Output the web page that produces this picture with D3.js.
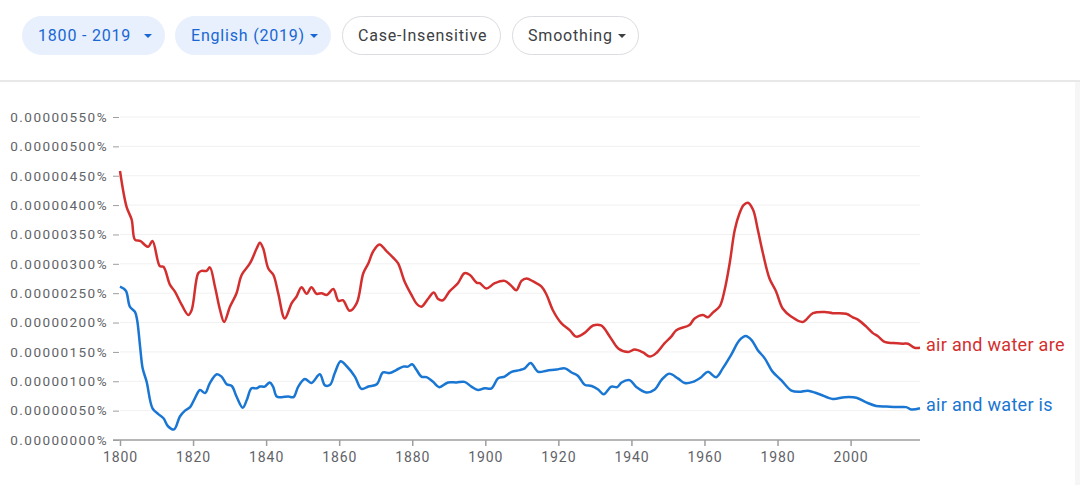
<!DOCTYPE html>
<html>
<head>
<meta charset="utf-8">
<script src="https://cdn.jsdelivr.net/npm/d3@7"></script>
<style>
  body { margin: 0; background: #fff; }
  svg { display: block; font-family: Roboto, "Noto Sans", sans-serif; }
</style>
</head>
<body>
<svg id="chart" width="1080" height="485"></svg>
<script>
// values are in units of 0.000001 %
const redName = "air and water are";
const redYears = [1800, 1801.8, 1803.2, 1804.1, 1805.5, 1807.7, 1808.9, 1810.9, 1811.9, 1813.7, 1815, 1816.9, 1818.7, 1819.6, 1821.4, 1822.3, 1823.7, 1824.6, 1826, 1827.4, 1828.5, 1830.1, 1831.9, 1833.3, 1835.6, 1837.4, 1838.3, 1839.2, 1840.6, 1842, 1843.3, 1845.1, 1847, 1848.3, 1849.7, 1851.1, 1852.4, 1853.8, 1855.2, 1856.6, 1858.4, 1859.8, 1861, 1862.9, 1864.8, 1866.6, 1868, 1869.3, 1871, 1872.9, 1874.7, 1876.1, 1877.9, 1879.8, 1881.2, 1882.5, 1884.4, 1885.9, 1887.1, 1888.4, 1890.2, 1892.5, 1894.3, 1895.8, 1897.6, 1898.5, 1900.3, 1902.6, 1905.3, 1907.2, 1908.5, 1909.9, 1911.3, 1913.1, 1915.4, 1916.8, 1918.5, 1920.8, 1923.1, 1924.9, 1927.1, 1929.5, 1931.7, 1934.1, 1936.4, 1939.1, 1940.9, 1943.2, 1945, 1946.8, 1949.1, 1950.9, 1952.3, 1955.9, 1957.3, 1959.6, 1960.9, 1962.3, 1964.2, 1965.5, 1966.9, 1968.3, 1969.6, 1970.7, 1971.9, 1973.3, 1974.6, 1976, 1977.8, 1979.6, 1981.4, 1983.8, 1986.9, 1989.7, 1992.9, 1995.1, 1998.8, 2000.6, 2002, 2004.3, 2006.1, 2007.4, 2009.3, 2011.6, 2014.3, 2015.7, 2017.5, 2019];
const redValues = [4.58, 3.97, 3.75, 3.41, 3.39, 3.29, 3.39, 2.96, 2.95, 2.64, 2.53, 2.30, 2.13, 2.21, 2.84, 2.88, 2.88, 2.94, 2.61, 2.21, 2.01, 2.27, 2.50, 2.81, 3.01, 3.26, 3.36, 3.26, 2.92, 2.81, 2.50, 2.07, 2.33, 2.44, 2.60, 2.49, 2.60, 2.49, 2.50, 2.47, 2.57, 2.37, 2.38, 2.20, 2.33, 2.84, 3.01, 3.21, 3.33, 3.22, 3.11, 3.01, 2.70, 2.47, 2.32, 2.27, 2.41, 2.51, 2.40, 2.38, 2.53, 2.67, 2.84, 2.81, 2.68, 2.67, 2.58, 2.67, 2.71, 2.62, 2.55, 2.71, 2.75, 2.70, 2.61, 2.47, 2.21, 1.99, 1.87, 1.76, 1.82, 1.95, 1.95, 1.76, 1.56, 1.50, 1.54, 1.49, 1.42, 1.48, 1.65, 1.76, 1.87, 1.96, 2.07, 2.13, 2.09, 2.17, 2.28, 2.55, 3.01, 3.58, 3.86, 4.00, 4.04, 3.92, 3.58, 3.18, 2.75, 2.53, 2.24, 2.10, 2.01, 2.16, 2.18, 2.16, 2.15, 2.09, 2.05, 1.93, 1.82, 1.77, 1.67, 1.65, 1.64, 1.64, 1.57, 1.57];

const blueName = "air and water is";
const blueYears = [1800, 1801.6, 1802.7, 1804.1, 1804.7, 1805.5, 1806.2, 1807.3, 1808.9, 1810.5, 1811.9, 1813.2, 1814.8, 1816.4, 1817.8, 1819.2, 1820.5, 1821.9, 1823.3, 1824.6, 1826.5, 1827.8, 1829.2, 1830.6, 1831.9, 1833.6, 1834.7, 1836, 1837.4, 1838.3, 1839.6, 1841, 1841.9, 1842.9, 1844.2, 1846.1, 1847.5, 1848.8, 1850.6, 1852.4, 1854.7, 1856.1, 1857.5, 1858.8, 1860.4, 1862, 1864.3, 1866.1, 1868, 1870.3, 1872, 1873.8, 1875.6, 1877.5, 1878.8, 1880, 1881.2, 1882.5, 1883.9, 1885.7, 1887.4, 1889.8, 1892.1, 1894.3, 1896.2, 1898, 1899.8, 1901.7, 1903.5, 1905.3, 1907.2, 1909.4, 1910.8, 1912.4, 1914.5, 1916.8, 1919.5, 1921.8, 1923.6, 1925.4, 1927.2, 1929.1, 1930.9, 1932.4, 1934.5, 1936.1, 1937.3, 1939.5, 1941.4, 1944.1, 1946.4, 1948.2, 1950.3, 1952.7, 1954.6, 1956.8, 1959.1, 1960.9, 1963.2, 1965, 1967.3, 1969.6, 1971.3, 1972.9, 1974.6, 1976.5, 1978.7, 1981, 1983.8, 1986, 1988.3, 1991.5, 1995.1, 1998.4, 2001.6, 2004.3, 2007, 2009.8, 2012.5, 2015.2, 2016.6, 2019];
const blueValues = [2.61, 2.54, 2.27, 2.18, 2.04, 1.59, 1.22, 0.99, 0.54, 0.44, 0.37, 0.23, 0.18, 0.40, 0.50, 0.56, 0.71, 0.85, 0.80, 0.97, 1.12, 1.08, 0.95, 0.92, 0.74, 0.55, 0.68, 0.88, 0.88, 0.91, 0.91, 0.98, 0.91, 0.74, 0.73, 0.74, 0.73, 0.91, 1.04, 0.97, 1.12, 0.93, 0.94, 1.14, 1.34, 1.26, 1.08, 0.87, 0.91, 0.95, 1.15, 1.14, 1.19, 1.25, 1.25, 1.29, 1.19, 1.08, 1.07, 0.99, 0.90, 0.98, 0.98, 0.99, 0.91, 0.85, 0.88, 0.88, 1.05, 1.08, 1.16, 1.19, 1.22, 1.31, 1.16, 1.18, 1.20, 1.22, 1.15, 1.09, 0.94, 0.92, 0.86, 0.78, 0.91, 0.90, 0.98, 1.02, 0.90, 0.81, 0.86, 1.02, 1.13, 1.05, 0.97, 0.99, 1.07, 1.16, 1.07, 1.22, 1.45, 1.70, 1.77, 1.70, 1.53, 1.39, 1.16, 1.02, 0.84, 0.82, 0.84, 0.78, 0.70, 0.73, 0.72, 0.64, 0.58, 0.57, 0.56, 0.56, 0.52, 0.54];

const yTicks = [0, 0.5, 1, 1.5, 2, 2.5, 3, 3.5, 4, 4.5, 5, 5.5];
const xTicks = [1800, 1820, 1840, 1860, 1880, 1900, 1920, 1940, 1960, 1980, 2000];
const chips = [
  { label: "1800 - 2019", active: true, caret: true },
  { label: "English (2019)", active: true, caret: true },
  { label: "Case-Insensitive", active: false, caret: false },
  { label: "Smoothing", active: false, caret: true }
];

const svg = d3.select("#chart");

// header chips
const chipX = [22, 175, 342, 512];
const chipW = [143, 156, 159, 127];
const header = svg.append("g");
chips.forEach((c, i) => {
  const cg = header.append("g").attr("transform", `translate(${chipX[i]},16)`);
  cg.append("rect")
    .attr("x", 0.5).attr("y", 0.5)
    .attr("width", chipW[i] - 1).attr("height", 38)
    .attr("rx", 19)
    .attr("fill", c.active ? "#e8f0fe" : "#fff")
    .attr("stroke", c.active ? "#e8f0fe" : "#dadce0");
  cg.append("text")
    .attr("x", 16).attr("y", 25)
    .attr("font-size", "16px")
    .attr("letter-spacing", "0.8px")
    .attr("fill", c.active ? "#1967d2" : "#3c4043")
    .text(c.label);
  if (c.caret) {
    const cx = chipW[i] - 17;
    cg.append("path")
      .attr("d", `M${cx - 4},18 L${cx + 4},18 L${cx},22 Z`)
      .attr("fill", c.active ? "#1967d2" : "#3c4043");
  }
});

svg.append("line")
  .attr("x1", 0).attr("x2", 1080)
  .attr("y1", 81).attr("y2", 81)
  .attr("stroke", "#e0e0e0").attr("stroke-width", 1.5);
svg.append("rect")
  .attr("x", 1075).attr("y", 82).attr("width", 5).attr("height", 403)
  .attr("fill", "#f6f6f6");

// scales
const x = d3.scaleLinear().domain([1800, 2019]).range([120, 920]);
const y = d3.scaleLinear().domain([0, 5.5]).range([440, 117]);

// grid
svg.append("g")
  .selectAll("line")
  .data(yTicks.filter(d => d > 0))
  .join("line")
  .attr("x1", 120).attr("x2", 920)
  .attr("y1", d => y(d)).attr("y2", d => y(d))
  .attr("stroke", "#f1f1f1");

// y axis
const yAxis = svg.append("g")
  .attr("transform", "translate(119,0)")
  .call(d3.axisLeft(y).tickValues(yTicks).tickSize(6).tickPadding(5)
    .tickFormat(d => (d * 1e-6).toFixed(8) + "%"));
yAxis.select(".domain").remove();
yAxis.selectAll(".tick line").attr("stroke", "#9e9e9e");
yAxis.selectAll("text")
  .attr("fill", "#5f6368")
  .style("font-size", "13.5px")
  .style("letter-spacing", "1.45px")
  .style("font-family", "Roboto, sans-serif");

// x axis
const xAxis = svg.append("g")
  .attr("transform", "translate(0,440)")
  .call(d3.axisBottom(x).tickValues(xTicks).tickSize(6).tickSizeOuter(0).tickPadding(6)
    .tickFormat(d3.format("d")));
xAxis.select(".domain").remove();
xAxis.append("line")
  .attr("x1", 113).attr("x2", 920)
  .attr("stroke", "#9e9e9e").attr("stroke-width", 1.5);
xAxis.selectAll(".tick line").attr("stroke", "#9e9e9e").attr("stroke-width", 1.5);
xAxis.selectAll("text")
  .attr("fill", "#5f6368")
  .style("font-size", "14px")
  .style("letter-spacing", "0.9px")
  .style("font-family", "Roboto, sans-serif");

// lines
const line = d3.line()
  .x(d => x(d[0]))
  .y(d => y(d[1]))
  .curve(d3.curveCatmullRom.alpha(0.5));

const series = [
  { name: redName, years: redYears, values: redValues, color: "#d32f2f" },
  { name: blueName, years: blueYears, values: blueValues, color: "#1976d2" }
];

series.forEach(s => {
  const pts = s.years.map((yr, i) => [yr, s.values[i]]);
  svg.append("path")
    .datum(pts)
    .attr("fill", "none")
    .attr("stroke", s.color)
    .attr("stroke-width", 2.5)
    .attr("stroke-linejoin", "round")
    .attr("d", line);

  const last = pts[pts.length - 1];
  svg.append("text")
    .attr("x", x(last[0]) + 6)
    .attr("y", y(last[1]) + 3)
    .attr("fill", s.color)
    .style("font-size", "18px")
    .style("letter-spacing", "0.3px")
    .text(s.name);
});
</script>
</body>
</html>
